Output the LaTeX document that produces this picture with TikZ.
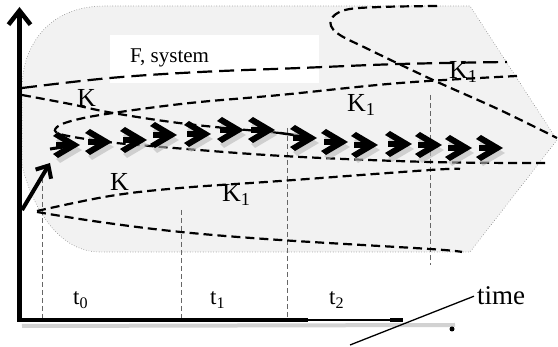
\documentclass[tikz,border=0pt]{standalone}
\usepackage{fontspec}
\setmainfont{Liberation Serif}
\usetikzlibrary{arrows.meta}
\definecolor{bgfill}{HTML}{F2F2F2}
\tikzset{
  curve/.style={line width=2.2pt, dash pattern=on 9pt off 5pt},
  longcurve/.style={line width=2.2pt, dash pattern=on 15pt off 7pt},
  vtick/.style={gray!80!black, line width=0.8pt, dash pattern=on 5pt off 3pt},
  axisline/.style={line width=4.5pt},
  shadowline/.style={gray!35, line width=4pt},
  klbl/.style={inner sep=0pt, anchor=base west, font=\fontsize{26}{26}\selectfont},
  tlbl/.style={inner sep=0pt, anchor=base west, font=\fontsize{23}{23}\selectfont},
  chev/.pic={
    \fill[gray!55, opacity=0.6] (2,5) -- (-20,-8) -- (-24,-4) -- (-10,5) -- (-24,14) -- (-20,18) -- cycle;
    \fill[black] (0,0) -- (-22,-13) -- (-27,-9) -- (-12,0) -- (-27,9) -- (-22,13) -- cycle;
    \fill[black] (-24,-3) rectangle (-8,3);
  }
}
\begin{document}
\begin{tikzpicture}[x=1pt,y=-1pt]
\useasboundingbox (0,0) rectangle (558,347);
% background shape
\filldraw[fill=bgfill, draw=gray, dotted, line width=0.6pt]
  (22,165) -- (22,88) .. controls (22,50) and (45,6) .. (105,6)
  -- (470,6) -- (557,140) -- (470,252) -- (100,252)
  .. controls (55,252) and (30,200) .. (22,165) -- cycle;
% white label box
\fill[white] (110,35) rectangle (319,83);
\node[inner sep=0pt, anchor=base west, font=\fontsize{21}{21}\selectfont] (fsys) at (130,63) {F, system};
% vertical time marks
\coordinate (v0t) at (42,178); \coordinate (v0b) at (42,320);
\coordinate (v1t) at (181,210); \coordinate (v1b) at (181,320);
\coordinate (v2t) at (287,128); \coordinate (v2b) at (287,320);
\coordinate (v3t) at (430,95);  \coordinate (v3b) at (430,265);
\draw[vtick] (v0t) -- (v0b);
\draw[vtick] (v1t) -- (v1b);
\draw[vtick] (v2t) -- (v2b);
\draw[vtick] (v3t) -- (v3b);
% dashed curves
\draw[longcurve] plot[smooth, tension=0.6] coordinates {(22,88) (110,78) (200,72) (300,68) (400,64) (507,62)};
\draw[curve] plot[smooth, tension=0.6] coordinates {(22,95) (70,104) (113,113) (187,124) (280,133)};
\draw[curve] plot[smooth, tension=0.6] coordinates {(517,76) (400,83) (280,95) (190,103) (113,113) (75,120) (57,127) (60,134) (100,141) (150,146) (283,156) (430,162) (547,163)};
\draw[curve] plot[smooth, tension=0.6] coordinates {(37,211) (110,196) (180,188) (280,181) (430,170) (460,169)};
\draw[curve] plot[smooth, tension=0.6] coordinates {(37,212) (100,222) (181,232) (280,240) (430,249) (462,252)};
\draw[curve] plot[smooth, tension=0.6] coordinates {(437,6) (380,7) (345,10) (331,20) (337,33) (370,50) (433,80) (500,110) (557,138)};
% chevrons
\draw[line width=3pt] (50,149) -- (70,146);
\pic at (80,145) {chev};
\pic at (112,142) {chev};
\pic at (147,140) {chev};
\pic at (177,135) {chev};
\pic at (211,134) {chev};
\pic at (244,130) {chev};
\pic at (275,130) {chev};
\draw[line width=2.5pt] (280,133) -- (308,137);
\pic at (317,138) {chev};
\pic at (348,142) {chev};
\pic at (378,145) {chev};
\pic at (412,144) {chev};
\pic at (442,145) {chev};
\pic at (472,148) {chev};
\pic at (503,148) {chev};
% axes
\coordinate (ytop) at (19.5,7);
\coordinate (xa) at (308,320);
\coordinate (xb) at (390,320);
\coordinate (xend) at (403,320);
\coordinate (xshadowend) at (455,325);
\draw[shadowline] (22,326) -- (xshadowend);
\fill (452,329) circle (2.5);
\draw[axisline, -{Straight Barb[length=14pt,width=22pt]}] (19.5,322) -- (ytop);
\draw[axisline] (17,320) -- (xa);
\draw[line width=2pt] (xa) -- (xb);
\draw[axisline] (xb) -- (xend);
% diagonal arrow
\coordinate (da) at (22,210);
\coordinate (db) at (50,163);
\draw[line width=4pt, -{Straight Barb[length=10pt,width=18pt]}] (da) -- (db);
% labels
\node[klbl] (ka) at (77,107) {K};
\node[klbl] (kb) at (347,112) {K\textsubscript{1}};
\node[klbl] (kc) at (449,79) {K\textsubscript{1}};
\node[klbl] (kd) at (110,191) {K};
\node[klbl] (ke) at (222,202) {K\textsubscript{1}};
\node[tlbl] (t0) at (73,305) {t\textsubscript{0}};
\node[tlbl] (t1) at (210,305) {t\textsubscript{1}};
\node[tlbl] (t2) at (329,305) {t\textsubscript{2}};
\node[inner sep=3pt, anchor=base west, font=\fontsize{27}{27}\selectfont] (time) at (474,305) {time};
\coordinate (tp) at (350,345);
\draw[line width=1.3pt] (time.west) -- (tp);
\end{tikzpicture}
\end{document}
